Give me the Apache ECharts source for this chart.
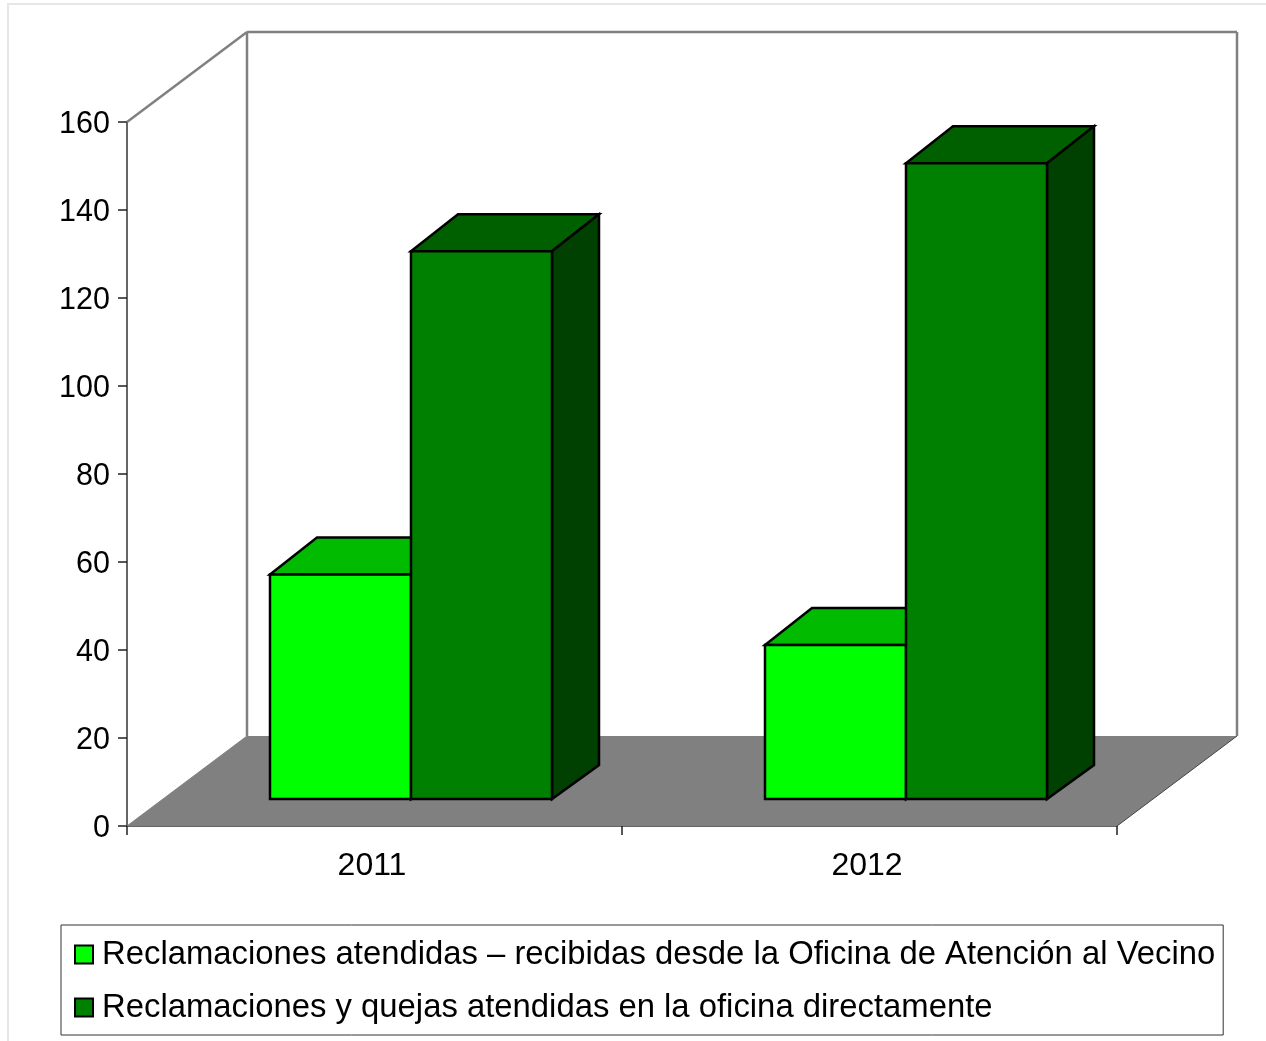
<!DOCTYPE html>
<html><head><meta charset="utf-8">
<style>html,body{margin:0;padding:0;background:#fff;overflow:hidden}#c{width:1266px;height:1041px}</style>
<script src="https://cdn.jsdelivr.net/npm/echarts@6/dist/echarts.min.js"></script>
</head><body><div id="c"></div>
<script>
const categories = ['2011', '2012'];
const atendidasOficina = [51, 35];
const atendidasDirecta = [124.5, 144.5];
const nameA = 'Reclamaciones atendidas – recibidas desde la Oficina de Atención al Vecino';
const nameB = 'Reclamaciones y quejas atendidas en la oficina directamente';
const yMax = 160, yStep = 20;

const FONT = '"Liberation Sans", Arial, sans-serif';
const wall = {dx: 120, dy: -90};      // depth of the whole 3D box
const bar = {dx: 47, dy: -37, footDy: -34, lift: 27, shift: 36.5, w: 141}; // depth of a bar and its place on the floor
const colors = {
  a: {front: '#00ff00', top: '#00bb00', side: '#008000'},
  b: {front: '#008000', top: '#006000', side: '#004000'}
};

function poly(points, fill, stroke, lw) {
  return {type: 'polygon', shape: {points}, style: {fill, stroke: stroke || null, lineWidth: lw || 0, lineJoin: 'miter'}};
}
function line(a, b, stroke, lw) {
  return {type: 'line', shape: {x1: a[0], y1: a[1], x2: b[0], y2: b[1]}, style: {stroke, lineWidth: lw}};
}
function renderFrame(params, api) {
  const w = api.size([1, 0])[0] * categories.length;
  const o = api.coord([0, 0]); o[0] -= api.size([1, 0])[0] / 2;
  const t = api.coord([0, yMax]); t[0] = o[0];
  const x0 = o[0], y0 = o[1], yT = t[1];
  const bx = x0 + wall.dx, by = y0 + wall.dy, byT = yT + wall.dy;
  return {type: 'group', children: [
    poly([[x0, y0], [bx, by], [bx + w, by], [x0 + w, y0]], '#808080'),
    line([x0, yT], [bx, byT], '#808080', 2.5),
    line([bx, byT], [bx, by], '#808080', 2.5),
    line([bx, byT], [bx + w, byT], '#808080', 2.5),
    line([bx + w, byT], [bx + w, by], '#808080', 2.5),
    line([x0, y0], [bx, by], '#808080', 1),
    line([x0 + w, y0], [bx + w, by], '#444444', 1)
  ]};
}
function renderBar(c, offset) {
  return function (params, api) {
    const p0 = api.coord([api.value(0), 0]);
    const p1 = api.coord([api.value(0), api.value(1)]);
    const scale = api.size([1, 0])[0] / 495;
    const w = bar.w * scale;
    const l = p0[0] + bar.shift + (offset - 1) * w;
    const r = l + w;
    const b = p0[1] - bar.lift;
    const t = p1[1] - bar.lift;
    const dx = bar.dx, dy = bar.dy;
    return {type: 'group', children: [
      poly([[l, t], [l + dx, t + dy], [r + dx, t + dy], [r, t]], c.top, '#000', 2.5),
      poly([[r, t], [r + dx, t + dy], [r + dx, b + bar.footDy], [r, b]], c.side, '#000', 2.5),
      poly([[l, t], [r, t], [r, b], [l, b]], c.front, '#000', 2.5)
    ]};
  };
}

const chart = echarts.init(document.getElementById('c'), null, {renderer: 'canvas'});
chart.setOption({
  animation: false,
  backgroundColor: '#ffffff',
  textStyle: {fontFamily: FONT},
  graphic: [{type: 'rect', shape: {x: 8, y: 4, width: 1400, height: 1200},
    style: {fill: null, stroke: '#e6e6e6', lineWidth: 2}, silent: true, z: -10}],
  grid: {left: 127, right: 149, top: 122, bottom: 215},
  xAxis: {
    type: 'category', data: categories, boundaryGap: true,
    axisLine: {show: true, lineStyle: {color: '#333', width: 1.5}},
    axisTick: {show: true, length: 9, alignWithLabel: false, lineStyle: {color: '#222', width: 1.5}},
    axisLabel: {color: '#000', fontSize: 32, fontFamily: FONT, margin: 24, padding: [0, 5, 0, 0]},
    splitLine: {show: false}
  },
  yAxis: {
    type: 'value', min: 0, max: yMax, interval: yStep,
    axisLine: {show: true, lineStyle: {color: '#333', width: 1.5}},
    axisTick: {show: true, length: 9, lineStyle: {color: '#222', width: 1.5}},
    axisLabel: {color: '#000', fontSize: 30.5, fontFamily: FONT, margin: 17, verticalAlign: 'top', lineHeight: 6},
    splitLine: {show: false}
  },
  legend: {
    show: true, data: [nameA, nameB], orient: 'vertical', left: 61, top: 925,
    padding: [13, 8, 11, 13], itemGap: 20, itemWidth: 18, itemHeight: 18,
    backgroundColor: '#fff', borderColor: '#333', borderWidth: 1,
    icon: 'rect',
    itemStyle: {borderColor: '#000', borderWidth: 2},
    textStyle: {color: '#000', fontSize: 32.85, fontFamily: FONT, padding: [0, 0, 0, 4]},
    selectedMode: false
  },
  series: [
    {type: 'custom', name: 'frame', coordinateSystem: 'cartesian2d', clip: false, z: 1,
     renderItem: renderFrame, data: [[0, 0]], silent: true},
    {type: 'custom', name: nameA, coordinateSystem: 'cartesian2d', clip: false, z: 2,
     itemStyle: {color: colors.a.front},
     renderItem: renderBar(colors.a, 0), data: atendidasOficina.map((v, i) => [i, v])},
    {type: 'custom', name: nameB, coordinateSystem: 'cartesian2d', clip: false, z: 3,
     itemStyle: {color: colors.b.front},
     renderItem: renderBar(colors.b, 1), data: atendidasDirecta.map((v, i) => [i, v])}
  ]
});
</script></body></html>
